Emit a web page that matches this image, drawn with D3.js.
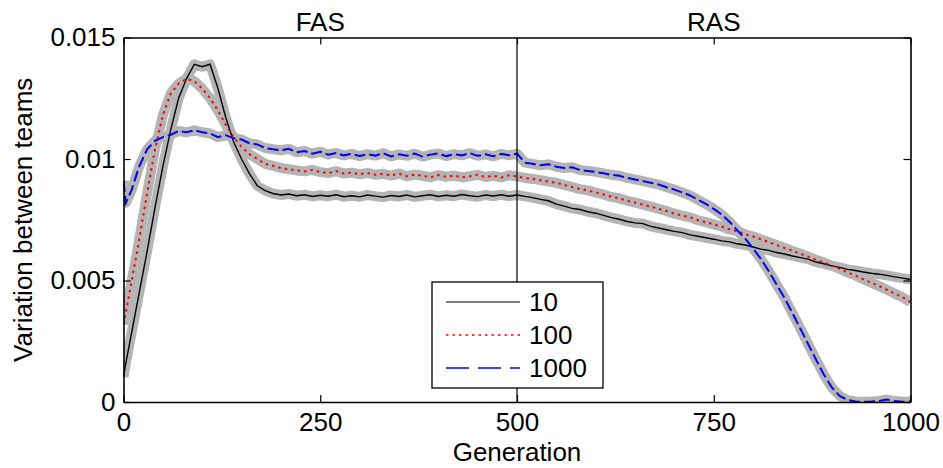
<!DOCTYPE html>
<html>
<head>
<meta charset="utf-8">
<script src="https://d3js.org/d3.v7.min.js"></script>
<style>
  body { margin: 0; background: #fff; }
  svg text { font-family: "Liberation Sans", Arial, Helvetica, sans-serif; fill: #000; }
</style>
</head>
<body>
<svg width="943" height="468"></svg>
<script>
// generations sampled from the figure
var gens = [0, 3];
for (var g0 = 10; g0 <= 1000; g0 += 10) gens.push(g0);

var team10 = [
  .00103, .0016, .0028, .0045, .0062, .0080, .0097, .0112, .0125, .0133, .0139, .0138,
  .0139, .0129, .0117, .0107, .0100, .0094, .0089, .0087, .00858, .00852,
  .00856, .00849, .00853, .00846, .00851, .00847, .00853, .00845, .00849, .00844,
  .00852, .00847, .00843, .0085, .00846, .00852, .00844, .00849, .00853, .00846,
  .00851, .00847, .00854, .00849, .00845, .00852, .00848, .00853, .00847, .00852,
  .00846, .00841, .00834, .00828, .00814, .00806, .00797, .00792, .00783, .00777,
  .00768, .00759, .00752, .00743, .00737, .00734, .00723, .00716, .00709, .00702,
  .00697, .00688, .00682, .00676, .0067, .00663, .00659, .00651, .00646, .00638,
  .00629, .00624, .00615, .00609, .00601, .00594, .00588, .00576, .00569, .0056,
  .00554, .00546, .00541, .00535, .0053, .00526, .00521, .00515, .0051, .00504
];
var team100 = [
  .0032, .0037, .0049, .0067, .0086, .0104, .0118, .0127, .0131, .0133, .0132, .0129,
  .0125, .0120, .0114, .0109, .0105, .0102, .0100, .0098, .00972, .00963,
  .00958, .00953, .00949, .00955, .00946, .00942, .0095, .0094, .00944, .00937,
  .00943, .00935, .00939, .00932, .0094, .00929, .00936, .00931, .00925, .00934,
  .00927, .00932, .00924, .00929, .00935, .00926, .00931, .00924, .00933, .00928,
  .00922, .00918, .00913, .00907, .00902, .00893, .00885, .00876, .00871, .00862,
  .00854, .00844, .00838, .00828, .00821, .00812, .00804, .00795, .00786, .00775,
  .00767, .0076, .00748, .0074, .00731, .00722, .0071, .00703, .0069, .00681,
  .00669, .00658, .00646, .00634, .00622, .0061, .00598, .00585, .00574, .00561,
  .00548, .00533, .00521, .00505, .00491, .00477, .00462, .00446, .00431, .00411
];
var team1000 = [
  .0091, .0082, .0087, .0097, .0104, .01075, .0109, .0110, .01115, .0111, .01118, .0111,
  .01105, .0109, .01098, .01085, .0108, .01065, .0106, .01045, .0104, .01036,
  .01042, .01028, .01033, .01022, .0103, .01018, .01025, .01015, .01021, .01012,
  .0102, .01014, .01024, .01011, .01019, .01013, .01022, .0101, .01018, .01023,
  .01012, .0102, .01015, .01024, .01013, .01019, .01011, .01021, .01015, .01022,
  .00985, .0098, .00974, .00978, .00968, .00963, .00966, .00955, .00951, .00947,
  .00941, .00935, .00931, .00922, .00916, .00909, .00902, .00895, .00884, .00874,
  .00862, .0085, .00832, .00815, .00795, .00772, .00742, .00706, .00672, .00632,
  .00588, .00538, .00483, .00428, .00366, .00302, .00238, .00174, .00112, .0006,
  .00025, .00008, .00002, .00001, .00002, .00004, .0001, .00004, .00001, .00002
];
var seriesNames = ["10", "100", "1000"];
var xTicks = [0, 250, 500, 750, 1000];
var yTicks = [0, 0.005, 0.01, 0.015];
var yTickLabels = ["0", "0.005", "0.01", "0.015"];
var phaseNames = ["FAS", "RAS"];
var phaseCenters = [250, 750];

var svg = d3.select("svg");
var mLeft = 123.5, mRight = 910.5, mTop = 37.5, mBottom = 402;

var x = d3.scaleLinear().domain([0, 1000]).range([mLeft, mRight]);
var y = d3.scaleLinear().domain([0, 0.015]).range([mBottom, mTop]);

var series = [
  { name: seriesNames[0], vals: team10, color: "#000", width: 1.4, dash: null },
  { name: seriesNames[1], vals: team100, color: "#ff0000", width: 2, dash: "2.5,4" },
  { name: seriesNames[2], vals: team1000, color: "#0000ff", width: 2, dash: "11,4" }
];

svg.append("clipPath").attr("id", "clip")
  .append("rect").attr("x", mLeft).attr("y", mTop)
  .attr("width", mRight - mLeft).attr("height", mBottom - mTop);

var line = d3.line()
  .x(function(d, i) { return x(gens[i]); })
  .y(function(d) { return y(d); });

var plot = svg.append("g").attr("clip-path", "url(#clip)");

// grey spread bands under each mean curve
series.forEach(function(s) {
  plot.append("path").datum(s.vals)
    .attr("d", line).attr("fill", "none")
    .attr("stroke", "#b4b4b4").attr("stroke-width", 10)
    .attr("stroke-linejoin", "round");
});
series.forEach(function(s) {
  plot.append("path").datum(s.vals)
    .attr("d", line).attr("fill", "none")
    .attr("stroke", s.color).attr("stroke-width", s.width)
    .attr("stroke-dasharray", s.dash);
});

// phase divider
svg.append("line")
  .attr("x1", x(500)).attr("x2", x(500))
  .attr("y1", mTop).attr("y2", mBottom)
  .attr("stroke", "#000").attr("stroke-width", 1.2);

// axes (MATLAB-style box with inward ticks)
var fs = "26px";
var gx = svg.append("g").attr("transform", "translate(0," + mBottom + ")")
  .call(d3.axisBottom(x).tickValues(xTicks).tickSizeInner(-7).tickSizeOuter(0).tickPadding(11)
    .tickFormat(d3.format("d")));
var gy = svg.append("g").attr("transform", "translate(" + mLeft + ",0)")
  .call(d3.axisLeft(y).tickValues(yTicks).tickSizeInner(-7).tickSizeOuter(0).tickPadding(8)
    .tickFormat(function(d, i) { return yTickLabels[i]; }));
var gt = svg.append("g").attr("transform", "translate(0," + mTop + ")")
  .call(d3.axisTop(x).tickValues(xTicks).tickSizeInner(-7).tickSizeOuter(0).tickFormat(""));
var gr = svg.append("g").attr("transform", "translate(" + mRight + ",0)")
  .call(d3.axisRight(y).tickValues(yTicks).tickSizeInner(-7).tickSizeOuter(0).tickFormat(""));

[gx, gy, gt, gr].forEach(function(a) {
  a.select(".domain").attr("stroke", "#000").attr("stroke-width", 1.6);
  a.selectAll(".tick line").attr("stroke", "#000").attr("stroke-width", 1.2);
  a.selectAll("text").attr("font-size", fs)
    .attr("font-family", "'Liberation Sans', Arial, sans-serif").attr("fill", "#000");
});

// phase labels above the plot
svg.selectAll(".phase").data(phaseNames).enter().append("text")
  .attr("class", "phase")
  .attr("x", function(d, i) { return x(phaseCenters[i]); })
  .attr("y", 31)
  .attr("text-anchor", "middle")
  .attr("font-size", fs)
  .text(function(d) { return d; });

svg.append("text")
  .attr("x", x(500)).attr("y", 461)
  .attr("text-anchor", "middle").attr("font-size", fs)
  .text("Generation");

svg.append("text")
  .attr("transform", "translate(32," + ((mTop + mBottom) / 2) + ") rotate(-90)")
  .attr("text-anchor", "middle").attr("font-size", fs)
  .text("Variation between teams");

// legend
var lg = svg.append("g").attr("transform", "translate(432,282)");
lg.append("rect").attr("width", 171).attr("height", 106)
  .attr("fill", "#fff").attr("stroke", "#000").attr("stroke-width", 1.3);
series.forEach(function(s, i) {
  var ly = 20 + i * 33;
  lg.append("line").attr("x1", 14).attr("x2", 88).attr("y1", ly).attr("y2", ly)
    .attr("stroke", s.color).attr("stroke-width", i === 0 ? 1.2 : 1.5)
    .attr("stroke-dasharray", i === 2 ? "23,9" : (i === 1 ? "2.5,4" : null));
  lg.append("text").attr("x", 97).attr("y", ly + 9)
    .attr("font-size", fs).text(s.name);
});
</script>
</body>
</html>
